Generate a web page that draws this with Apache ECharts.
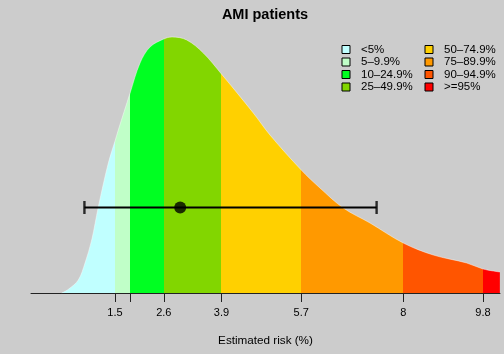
<!DOCTYPE html>
<html>
<head>
<meta charset="utf-8">
<script src="https://cdn.jsdelivr.net/npm/echarts@6/dist/echarts.min.js"></script>
<style>html,body{margin:0;padding:0;background:#cccccc;}#c{width:504px;height:354px;}</style>
</head>
<body>
<div id="c"></div>
<script>
// Density curve (x = estimated risk %, y = relative density height)
const curveX = [0.298, 0.447, 0.672, 0.823, 0.974, 1.123, 1.349, 1.5, 1.574, 1.84, 2.064, 2.289, 2.6, 2.785, 3.117, 3.491, 3.9, 4.619, 4.995, 5.7, 6.123, 6.649, 7.251, 8.0, 8.678, 9.432, 9.8, 10.18];
const curveY = [0, 3.7, 13, 30, 53, 86, 130, 152, 163, 200, 230, 246, 254, 256, 253, 240, 219, 180, 158, 123, 105, 85, 70, 50, 38, 30, 24, 21];
// Percentile band breaks
const bandBreaks = [0.298, 1.5, 1.84, 2.6, 3.9, 5.7, 8, 9.8, 10.18];
const bandLabels = ['<5%', '5\u20139.9%', '10\u201324.9%', '25\u201349.9%', '50\u201374.9%', '75\u201389.9%', '90\u201394.9%', '>=95%'];
const bandColors = ['#c0ffff', '#c0ffc8', '#00ff22', '#82d600', '#ffd000', '#ff9900', '#ff5500', '#ff0000'];
// Tick marks and labels
const tickValues = [1.5, 1.84, 2.6, 3.9, 5.7, 8, 9.8];
const tickLabels = [1.5, 2.6, 3.9, 5.7, 8, 9.8];
// Interval (error bar)
const ciLow = 0.81, ciMid = 2.97, ciHigh = 7.40, ciLevel = 85.5;

const FONT = 'Liberation Sans, Arial, Helvetica, sans-serif';
const chart = echarts.init(document.getElementById('c'));

const curve = curveX.map((x, i) => [x, curveY[i]]);

// Legend-only series (one per band)
const legendSeries = bandLabels.map((name, i) => ({
  name: name, type: 'line', data: [], color: bandColors[i],
  itemStyle: { color: bandColors[i] }, lineStyle: { width: 0 }
}));

const pieces = bandLabels.map((name, i) => ({
  gte: bandBreaks[i], lt: i === bandLabels.length - 1 ? 1000 : bandBreaks[i + 1], color: bandColors[i]
}));

const legendCommon = {
  orient: 'vertical', top: 43.25, padding: 0,
  icon: 'rect', itemWidth: 8, itemHeight: 8, itemGap: 0, selectedMode: false,
  itemStyle: { borderColor: '#000', borderWidth: 1 },
  textStyle: { fontFamily: FONT, fontSize: 11.5, color: '#000', lineHeight: 12.5, padding: [0, 0, 0, 6] }
};

const option = {
  backgroundColor: '#cccccc',
  animation: false,
  textStyle: { fontFamily: FONT },
  title: {
    text: 'AMI patients',
    left: 265, top: 7, textAlign: 'center', padding: 0,
    textStyle: { fontFamily: FONT, fontSize: 14.5, fontWeight: 'bold', color: '#000' }
  },
  legend: [
    Object.assign({ data: bandLabels.slice(0, 4), left: 341.5 }, legendCommon),
    Object.assign({ data: bandLabels.slice(4), left: 424.5 }, legendCommon)
  ],
  visualMap: {
    type: 'piecewise', show: false, dimension: 0, seriesIndex: 8,
    pieces: pieces
  },
  grid: { left: 31, right: 4, top: 30, bottom: 61 },
  xAxis: {
    type: 'value', min: -0.395, max: 10.183,
    splitLine: { show: false },
    axisLine: { show: true, lineStyle: { color: '#222', width: 1 } },
    axisTick: { show: true, length: 9, customValues: tickValues, lineStyle: { color: '#222', width: 1 } },
    axisLabel: { customValues: tickLabels, margin: 14, fontSize: 11, color: '#000', fontFamily: FONT,
      formatter: v => String(v) },
    name: 'Estimated risk (%)', nameLocation: 'middle', nameGap: 42,
    nameTextStyle: { fontSize: 11.7, color: '#000', fontFamily: FONT }
  },
  yAxis: { type: 'value', min: 0, max: 263, show: false, splitLine: { show: false } },
  series: legendSeries.concat([
    {
      type: 'line', data: curve, smooth: 0.35, showSymbol: false, silent: true,
      lineStyle: { width: 0 }, areaStyle: { opacity: 1 }, z: 2
    },
    {
      type: 'line', data: curve, smooth: 0.35, showSymbol: false, silent: true,
      lineStyle: { color: 'rgba(255,255,255,0.55)', width: 0.8 }, z: 3
    },
    {
      type: 'line', data: [[ciLow, ciLevel], [ciHigh, ciLevel]], showSymbol: false, silent: true,
      lineStyle: { color: '#000', width: 2 }, z: 5
    },
    {
      type: 'scatter', data: [[ciLow, ciLevel], [ciHigh, ciLevel]], symbol: 'rect', symbolSize: [2.4, 13],
      itemStyle: { color: '#000' }, silent: true, z: 6
    },
    {
      type: 'scatter', data: [[ciMid, ciLevel]], symbol: 'circle', symbolSize: 12,
      itemStyle: { color: '#000' }, silent: true, z: 7
    }
  ])
};
chart.setOption(option);
</script>
</body>
</html>
